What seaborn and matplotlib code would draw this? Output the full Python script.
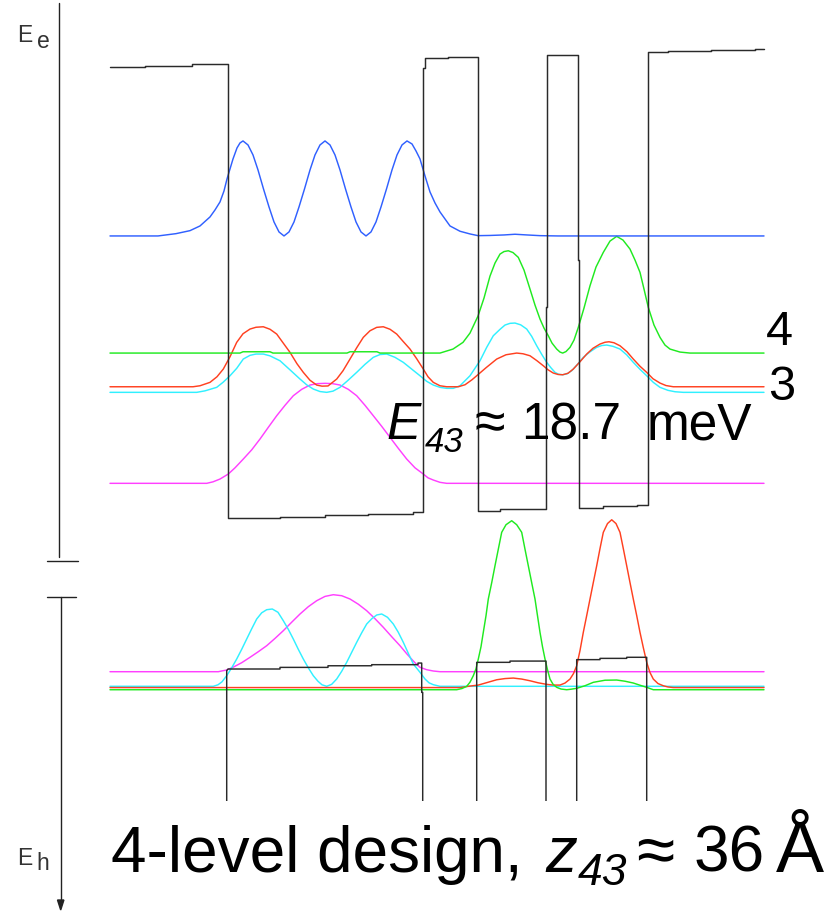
import numpy as np
import pandas as pd
import matplotlib
matplotlib.use("Agg")
import matplotlib.pyplot as plt
from matplotlib.lines import Line2D
from matplotlib.patches import Polygon
import seaborn as sns

# ---------------------------------------------------------------------------
# Conduction band: position z (Angstrom) and band edge energy (meV)
# ---------------------------------------------------------------------------
cb_z = [0, 17.5, 17.5, 41, 41, 58.85, 58.85, 59.15, 59.15, 64, 64, 85, 85, 107.5, 107.5,
        129, 129, 151.5, 151.5, 156.65, 156.65, 157.5, 157.5, 169, 169, 184.15, 184.15,
        195, 195, 218.15, 218.15, 218.65, 218.65, 234.15, 234.15, 234.5, 234.5, 246.5,
        246.5, 263.5, 263.5, 268.85, 268.85, 279, 279, 300.5, 300.5, 322.5, 322.5, 327]
cb_E = [250.5, 250.5, 251.2, 251.2, 252.0, 252.0, 131.9, 131.9, 0, 0, 0.2, 0.2, 0.6, 0.6, 1.8,
        1.8, 2.4, 2.4, 3.3, 3.3, 249.9, 249.9, 255.3, 255.3, 255.9, 255.9, 4.1,
        4.1, 5.2, 5.2, 117.4, 117.4, 257.3, 257.3, 143.5, 143.5, 5.6, 5.6,
        6.7, 6.7, 7.4, 7.4, 258.8, 258.8, 259.4, 259.4, 259.9, 259.9, 260.5, 260.5]

# Electron subband energies (meV)
E_e1, E_e2, E_e3, E_e4, E_e5 = 19.4, 69.9, 73.0, 91.7, 156.7

# |psi|^2 of the electron states (arbitrary units)
z_e5 = [0, 24, 33, 40, 45, 50, 52.5, 55, 57, 58.5, 60, 61.5, 63.5, 65, 66.5, 69, 71.5, 74, 76.75,
        79.5, 82, 84.5, 87, 89.5, 92, 94.5, 97.25, 100, 102.5, 105, 107.5, 110, 112.5, 115,
        117.75, 120.5, 123, 125.5, 128, 130.5, 133, 135.5, 138.25, 141, 143.5, 146, 148.5,
        151, 153, 155, 157.5, 160, 162.5, 165, 170, 175, 180, 184, 190, 197, 202.5, 208.5,
        215, 224, 327]
psi_e5 = [0, 0, 2.3, 5.3, 10, 19, 26, 34, 45, 57, 67, 77, 88, 93, 95, 91, 81, 66, 47,
          29, 14, 4, 0, 4, 14, 29, 47, 66, 81, 91, 95, 91, 81, 66,
          47, 29, 14, 4, 0, 4, 14, 29, 47, 66, 81, 91, 95,
          92, 85, 77, 60, 44, 33, 24, 10, 4.7, 2, 0.3, 0.5, 1, 1.7, 1,
          0.3, 0, 0]

z_e4 = [0, 65, 66.5, 80, 81.5, 118.5, 120, 133.5, 135, 165, 171.5, 176.5, 180, 184, 187, 190,
        192.5, 195, 197, 199.15, 201.5, 204.15, 207, 210, 212.5, 215, 217, 219.15, 221,
        223.35, 225, 226.35, 228, 230, 232, 234.15, 237, 240, 243, 246.65, 250, 253.35,
        256.5, 260, 262.5, 265, 267, 269.15, 272, 275, 277.5, 280, 285, 290, 327]
psi_e4 = [0, 0, 1.3, 1.3, 0, 0, 1.3, 1.3, 0, 0, 4, 10.7, 20, 37, 55, 77,
          90, 99, 101.5, 102.3, 100.5, 95.7, 83, 64, 48, 34, 25, 17.3, 10,
          4, 1, 0, 1.5, 5.7, 13, 25.7, 45, 67.3, 86, 100.7, 112, 116.7,
          113, 104, 93, 80.7, 64, 45.7, 28, 15.7, 8, 4, 1, 0, 0]

z_e3 = [0, 41.5, 45, 50, 53.5, 56.65, 60, 63.35, 66.5, 70, 73, 76.65, 80, 83.35, 86.5, 90,
        93.5, 96.65, 100, 103.35, 106, 109, 113.35, 116.5, 120, 123.35, 126.65, 130,
        133.35, 136.65, 140, 143.35, 146.5, 150, 153.35, 156.65, 159, 161.65, 165,
        168.35, 174.15, 177.5, 181, 183.35, 188, 193.35, 198, 203.35, 206.5, 210,
        213.5, 216.65, 219, 221.65, 224, 226.35, 229, 231.65, 235, 238.35, 241.5,
        245, 247.5, 249.5, 252, 255, 258.5, 261.65, 265, 268.35, 271.5, 275, 278,
        281.65, 327]
psi_e3 = [0, 0, 1, 4.4, 10, 17.7, 30, 44.4, 53, 57.7, 59.5, 60, 57.5, 52.7, 44, 34.4,
          23, 14.4, 6.5, 1.7, 0.6, 0.8, 7.7, 16, 27.7, 39, 49.4, 56,
          59.4, 60, 57.5, 52.7, 45.5, 37.7, 28, 17.7, 10, 4.4, 1,
          0, 0, 2, 7, 11, 19, 27.7, 32, 33.7, 33, 31,
          26, 21, 17, 13.7, 12.3, 12, 13.5, 17.7, 25, 32.7, 38.5,
          42.7, 44.5, 45, 44, 41, 35, 27.7, 20.5, 14.4, 8, 3.7, 1.2,
          0, 0]

z_e2 = [0, 43.35, 47.5, 53.35, 56.5, 60, 63.35, 66.65, 70, 73, 76.65, 80, 85, 90, 95, 98.35,
        101.65, 105, 108.35, 111.5, 115, 119, 123.35, 127.5, 131.65, 135, 138.35, 142.5,
        146.65, 151, 155, 158.35, 161.65, 165, 168.35, 171.65, 175, 180, 185, 188.35,
        191.65, 195, 197.5, 200, 202.5, 205.35, 208.35, 210.85, 213.35, 215.85, 218.35,
        220.5, 222.5, 224.35, 226.35, 228.5, 230.85, 233.75, 236.65, 240, 243.35,
        245.85, 248.35, 251.5, 255, 258.35, 261.65, 265, 268.35, 271.65, 275, 279,
        282.5, 286.65, 327]
psi_e2 = [0, 0, 1.5, 5, 10, 16.6, 24, 33.3, 37, 38.3, 38.3, 36.5, 31.6, 22.5, 13.3, 7.5,
          3.3, 0.8, 0, 1.2, 5, 12, 20, 28, 35, 37.8, 38.3, 35,
          30, 23, 16.6, 11, 7.3, 5, 4, 4, 6.6, 16.6, 31.6, 45,
          56.6, 63, 67.3, 69, 69.3, 67.5, 63.3, 56, 46.6, 38, 30,
          24.5, 20, 18, 17.6, 18.5, 21.6, 28, 35, 40.5, 45,
          46.8, 47.3, 46, 43.3, 37.5, 30, 23, 16.6, 10, 5, 2,
          0.6, 0, 0]

z_e1 = [0, 48.35, 51.5, 55, 59.15, 62.5, 66.65, 70.85, 75, 79.15, 83.35, 87.5, 91.65, 95.85,
        100, 103.75, 107.5, 111.25, 115, 119.15, 123.35, 127.5, 131.65, 135.85, 140,
        144.15, 148.35, 152.5, 156.65, 159, 161.65, 165, 168.35, 327]
psi_e1 = [0, 0, 1.5, 4.3, 9.3, 15.5, 24.3, 33.5, 44.3, 56, 67.6, 78, 87.6, 94,
          98.3, 99.7, 100, 99.7, 98.3, 94, 87.6, 78, 67.6, 57, 46,
          35, 24.3, 15.5, 9.3, 5.5, 3.3, 1, 0, 0]

# ---------------------------------------------------------------------------
# Valence band: hole energy (meV, increasing downwards)
# ---------------------------------------------------------------------------
vb_z = [0, 58.35, 58.35, 59, 85, 85, 109, 109, 130.85, 130.85, 154, 154, 155.85, 155.85,
        156.35, 156.35, 183.35, 183.35, 200, 200, 218, 218, 233.35, 233.35, 245, 245,
        258.35, 258.35, 268.35, 268.35, 327]
vb_E = [95, 95, 0.9, 0, 0, -0.9, -0.9, -1.8, -1.8, -2.4, -2.4, -3.3, -3.3, 13.0,
        13.0, 95, 95, -3.7, -3.7, -4.4, -4.4, 95, 95, -5.2, -5.2, -5.9,
        -5.9, -6.5, -6.5, 95, 95]

E_h1, E_h2, E_h3, E_h4 = 1.5, 9.6, 10.3, 11.5

z_h1 = [0, 54.15, 56, 58.35, 61.5, 65.85, 70, 74.15, 78.35, 82.5, 86.65, 90.85, 95, 99.15,
        103.35, 107.5, 111.65, 115.85, 120, 124.15, 128.35, 132.5, 136.65, 140.85, 145,
        148.35, 151.5, 153.5, 155, 158.35, 161.65, 165, 327]
psi_h1 = [0, 0, 0.8, 1.7, 4.4, 9, 14.4, 20, 26, 33.3, 41, 49.5, 57.7, 65,
          71, 75.3, 77, 76, 72.7, 67.5, 61, 53, 44.4, 35, 26,
          18, 11, 7, 4.4, 2, 0.7, 0, 0]

z_h2 = [0, 51.65, 54, 56, 58.35, 60.85, 63.35, 65.85, 68.35, 70.85, 73.35, 75.85, 78.35,
        81.15, 84, 86.65, 89.15, 91.65, 94.15, 96.65, 99.15, 101.65, 104, 106, 108.35,
        110.85, 113.35, 115.85, 118.35, 120.85, 123.35, 125.85, 128.35, 130.85, 133.35,
        135.85, 138.75, 141.65, 144.15, 146.65, 149.15, 151.65, 155, 157.5, 159.5,
        161.65, 165, 327]
psi_h2 = [0, 0, 1.5, 4.5, 10.6, 18.5, 27.3, 37, 47.3, 57.5, 67.3, 73.5, 76.6,
          77.3, 74, 65.6, 57, 47.3, 37, 27.3, 18.5, 10.6, 5, 1.5, 0,
          2, 7.3, 15, 24, 34, 44, 53.5, 62.3, 67.5, 71.3,
          72.3, 69, 62.3, 54, 44, 33, 22.3, 14, 7.3, 3.5,
          1.6, 0, 0]

z_h3 = [0, 175, 180, 184.15, 188.5, 193.35, 197.5, 201.65, 205.85, 210, 214, 218.35, 221.5,
        225, 227.5, 230, 231.75, 233.35, 235, 236.65, 238.35, 240, 241.65, 243.35, 245,
        246.65, 248.75, 250.85, 253, 255, 256.65, 258.35, 260, 261.65, 263.35, 265,
        266.65, 268.35, 270, 271.65, 274, 276.65, 279, 281.65, 327]
psi_h3 = [0, 0, 1.5, 2.5, 5, 7.8, 9, 9.5, 8.5, 6.8, 4.8, 3.2, 2.5,
          2.5, 4.5, 8.5, 14, 21.8, 37, 55.2, 72, 88.5, 105, 121.8, 139,
          155.2, 164, 167.8, 164, 155.2, 139, 121.8, 105, 88.5, 72, 55.2,
          40, 25.2, 15, 8.5, 4, 1.8, 0.6, 0, 0]

z_h4 = [0, 173.35, 176, 178.35, 180, 181.65, 183, 184.15, 185.5, 186.65, 188, 189.15, 190.85,
        192.5, 194.15, 195.85, 198, 200.85, 203.35, 205.85, 207.5, 209.15, 210.85, 212.5,
        213.75, 215, 216.25, 217.5, 218.75, 220, 221.5, 223.35, 225.5, 228.35, 230.5,
        233.35, 237.5, 241.65, 247.5, 253.35, 257.5, 261.65, 265, 268.35, 271.65, 327]
psi_h4 = [0, 0, 1.2, 3.4, 7.5, 14, 21, 30.7, 43, 57.4, 74, 90.7, 107,
          124, 140.5, 157.4, 165, 169, 165, 157.4, 140.5, 124, 107, 90.7,
          74, 57.4, 43, 30.7, 20, 10.7, 5.5, 2.4, 0.7, 0, 0.5,
          1.4, 4, 7.4, 9.5, 9.7, 8.5, 6.7, 4.5, 2.4, 0, 0]

# Colours of the subbands
c_band = "#2a2a2a"
c_1 = "#ff40ff"   # magenta
c_2 = "#30f0ff"   # cyan
c_3 = "#ff4020"   # red
c_4 = "#20ea20"   # green
c_5 = "#3060ff"   # blue

wf_scale = 0.555   # meV per a.u. of |psi|^2 on the plot

# ---------------------------------------------------------------------------
W, H = 839, 912
sns.set_theme(style="white")
plt.rcParams['font.family'] = ['Liberation Sans', 'DejaVu Sans']

fig = plt.figure(figsize=(W / 100, H / 100), dpi=100)
fig.patch.set_facecolor("white")

# electron panel spans the whole canvas
ax_e = fig.add_axes([0, 0, 1, 1])
ax_e.set_xlim(-55, 364.5)
ax_e.set_ylim(-217.96, 288.21)
ax_e.axis("off")
ax_e.patch.set_alpha(0)

# hole panel, clipped at its lower edge
y_clip = 801.7
ax_h = fig.add_axes([0, (H - y_clip) / H, 1, y_clip / H])
ax_h.set_xlim(-55, 364.5)
ax_h.set_ylim(73.09, -371.85)
ax_h.axis("off")
ax_h.patch.set_alpha(0)

lw = 1.05


def draw(ax, z, y, color, z_order=2):
    df = pd.DataFrame({"z": z, "E": y})
    sns.lineplot(data=df, x="z", y="E", ax=ax, color=color, lw=lw,
                 estimator=None, sort=False, legend=False, zorder=z_order)


# conduction band and electron states
draw(ax_e, cb_z, cb_E, c_band, 3)
for z, psi, lev, col in [(z_e1, psi_e1, E_e1, c_1), (z_e2, psi_e2, E_e2, c_2),
                         (z_e3, psi_e3, E_e3, c_3), (z_e4, psi_e4, E_e4, c_4),
                         (z_e5, psi_e5, E_e5, c_5)]:
    draw(ax_e, z, lev + wf_scale * np.asarray(psi), col)

# valence band and hole states (drawn upward on the inverted axis)
draw(ax_h, vb_z, vb_E, c_band, 3)
for z, psi, lev, col in [(z_h1, psi_h1, E_h1, c_1), (z_h2, psi_h2, E_h2, c_2),
                         (z_h3, psi_h3, E_h3, c_3), (z_h4, psi_h4, E_h4, c_4)]:
    draw(ax_h, z, lev - wf_scale * np.asarray(psi), col)
for a in (ax_e, ax_h):
    a.set_xlabel("")
    a.set_ylabel("")


def fx(x):
    return x / W


def fy(y):
    return 1 - y / H


# broken energy axis on the left
axis_kw = dict(color="#222222", lw=1.0, transform=fig.transFigure)
fig.add_artist(Line2D([fx(59.3), fx(59.3)], [fy(4), fy(558.3)], **axis_kw))
fig.add_artist(Line2D([fx(46.7), fx(77.7)], [fy(561.7), fy(561.7)], **axis_kw))
fig.add_artist(Line2D([fx(46.7), fx(75.7)], [fy(597.7), fy(597.7)], **axis_kw))
fig.add_artist(Line2D([fx(60.7), fx(60.7)], [fy(597.7), fy(902)], **axis_kw))
fig.add_artist(Polygon([[fx(57.5), fy(901)], [fx(63.9), fy(901)], [fx(60.7), fy(911)]],
                       closed=True, color="#222222", transform=fig.transFigure))

lab_kw = dict(fontsize=16.5, color="#333333", va="baseline", ha="left")
fig.text(fx(17), fy(41.7), "E", **lab_kw)
fig.text(fx(37.5), fy(48), "e", **lab_kw)
fig.text(fx(17), fy(865), "E", **lab_kw)
fig.text(fx(36.5), fy(870), "h", **lab_kw)


def put(x, y, s, size, italic=False):
    fig.text(fx(x), fy(y), s, fontsize=size, color="black", va="baseline", ha="left",
             fontstyle="italic" if italic else "normal")


# level labels
put(766, 345, "4", 35)
put(768.5, 400, "3", 35)

# transition energy E_43
put(386.5, 439.5, "E", 37, italic=True)
put(425, 451.7, "43", 25, italic=True)
put(475, 440, "≈", 40)
put(521, 439.5, "18.7", 37)
put(647, 439.5, "meV", 37)

# design caption with dipole length z_43
put(110.5, 871.7, "4-level design,", 46)
put(545.5, 871.7, "z", 46, italic=True)
put(577.5, 885, "43", 32, italic=True)
put(636, 872.5, "≈", 50)
put(694, 871.7, "36", 46)
put(775.5, 871.7, "Å", 52)

fig.savefig("out.png", dpi=100, facecolor="white")
